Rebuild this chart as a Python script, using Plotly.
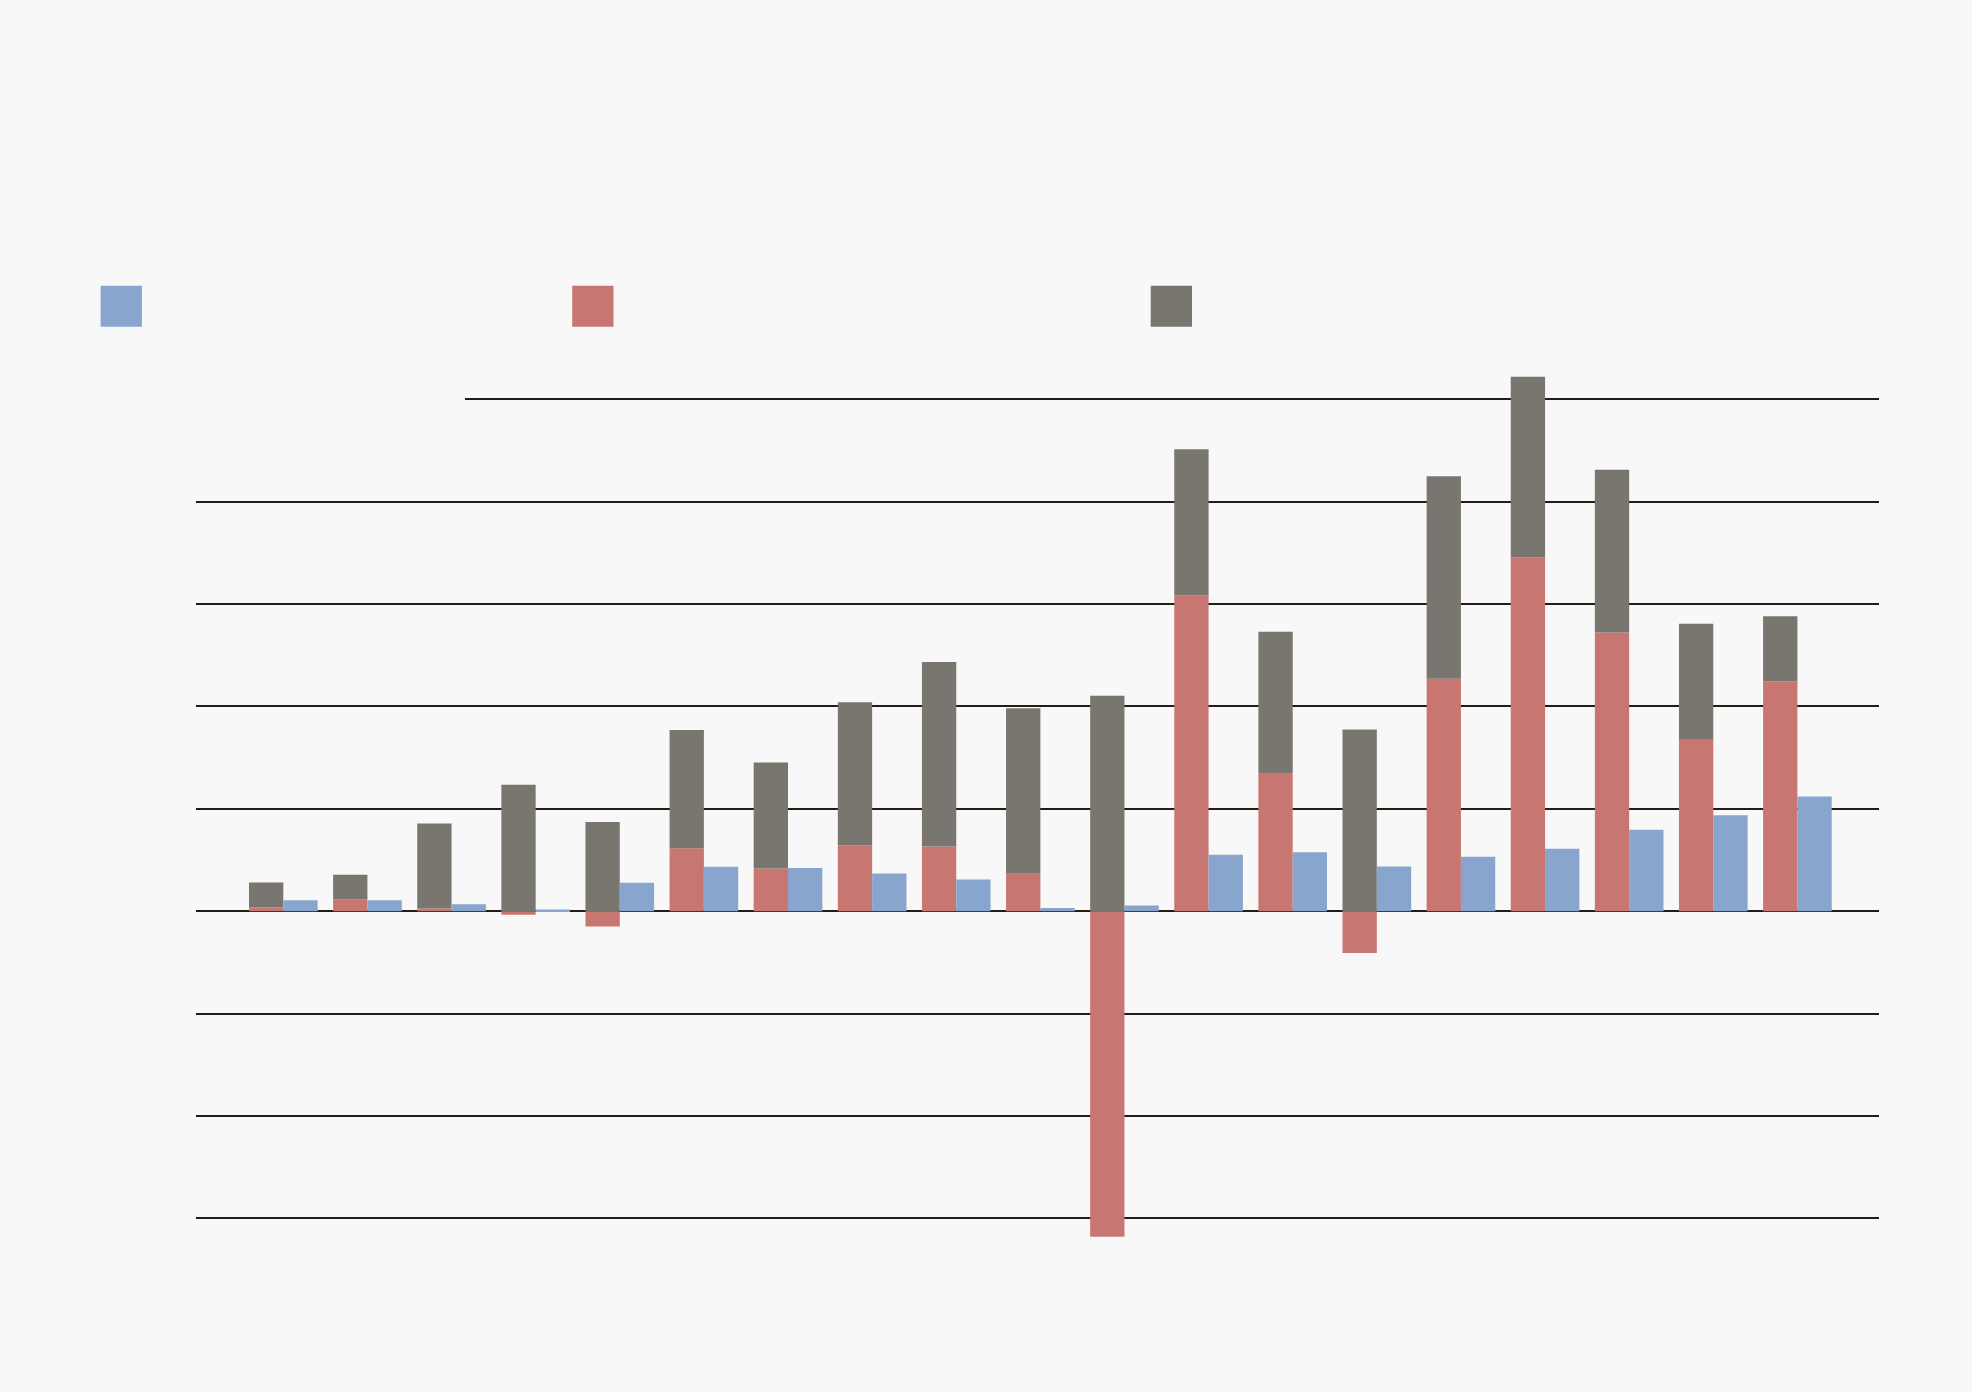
import plotly.graph_objects as go

# ---- data (gridline step = 10 units) ----
categories = [str(i) for i in range(1, 20)]
red_values = [0.36, 1.14, 0.26, -0.35, -1.5, 6.15, 4.17, 6.42, 6.32, 3.65,
              -31.8, 30.86, 13.42, -4.1, 22.7, 34.57, 27.22, 16.8, 22.43]
gray_values = [2.44, 2.41, 8.30, 12.34, 8.7, 11.53, 10.35, 13.99, 18.0, 16.17,
               21.03, 14.24, 13.86, 17.74, 19.78, 17.63, 15.88, 11.27, 6.37]
blue_values = [1.07, 1.07, 0.68, 0.17, 2.77, 4.34, 4.2, 3.68, 3.1, 0.3,
               0.56, 5.5, 5.76, 4.36, 5.31, 6.1, 7.95, 9.36, 11.2]

BG = "#f8f8f8"
BLUE = "#87a5cd"
RED = "#c87672"
GRAY = "#79766f"
GRID = "#241c12"

W, H = 1972, 1392
L, R = 196, W - 1879.3
Y_RANGE = [-33, 55]
PX_PER_UNIT = 10.24
ZERO_PX = 911.2
TOP_PX = ZERO_PX - Y_RANGE[1] * PX_PER_UNIT
BOT_PX = ZERO_PX - Y_RANGE[0] * PX_PER_UNIT
T, B = TOP_PX, H - BOT_PX


def px_to_paper_x(px):
    return (px - L) / (W - L - R)


def px_to_paper_y(py):
    return (BOT_PX - py) / (BOT_PX - TOP_PX)


fig = go.Figure()
fig.add_trace(go.Bar(x=categories, y=red_values, marker_color=RED,
                     offsetgroup="stack", name="red", marker_line_width=0))
fig.add_trace(go.Bar(x=categories, y=gray_values, marker_color=GRAY,
                     offsetgroup="stack", name="gray", marker_line_width=0))
fig.add_trace(go.Bar(x=categories, y=blue_values, marker_color=BLUE,
                     offsetgroup="blue", name="blue", marker_line_width=0))

shapes = []
# legend swatches
for color, x0 in [(BLUE, 100.6), (RED, 572.3), (GRAY, 1150.9)]:
    shapes.append(dict(type="rect", xref="paper", yref="paper",
                       x0=px_to_paper_x(x0), x1=px_to_paper_x(x0 + 41.3),
                       y0=px_to_paper_y(326.7), y1=px_to_paper_y(285.7),
                       fillcolor=color, line_width=0, layer="above"))
# background patch hiding the left part of the top gridline
shapes.append(dict(type="rect", xref="paper", yref="y",
                   x0=-0.01, x1=px_to_paper_x(465), y0=48, y1=52,
                   fillcolor=BG, line_width=0, layer="above"))

fig.update_layout(
    width=W, height=H,
    margin=dict(l=L, r=R, t=T, b=B, pad=0),
    paper_bgcolor=BG, plot_bgcolor=BG,
    barmode="relative", bargap=0.184, bargroupgap=0,
    showlegend=False,
    shapes=shapes,
    xaxis=dict(type="category", range=[-1.038, 18.97], showgrid=False,
               showticklabels=False, zeroline=False, showline=False, ticks=""),
    yaxis=dict(range=Y_RANGE, dtick=10, tick0=0, showgrid=True,
               gridcolor=GRID, gridwidth=1.6, zeroline=False,
               showticklabels=False, showline=False, ticks=""),
)

fig.write_html(
    "out.html",
    config={"displayModeBar": False},
    post_script="document.body.style.margin='0';document.body.style.background='%s';" % BG,
)
